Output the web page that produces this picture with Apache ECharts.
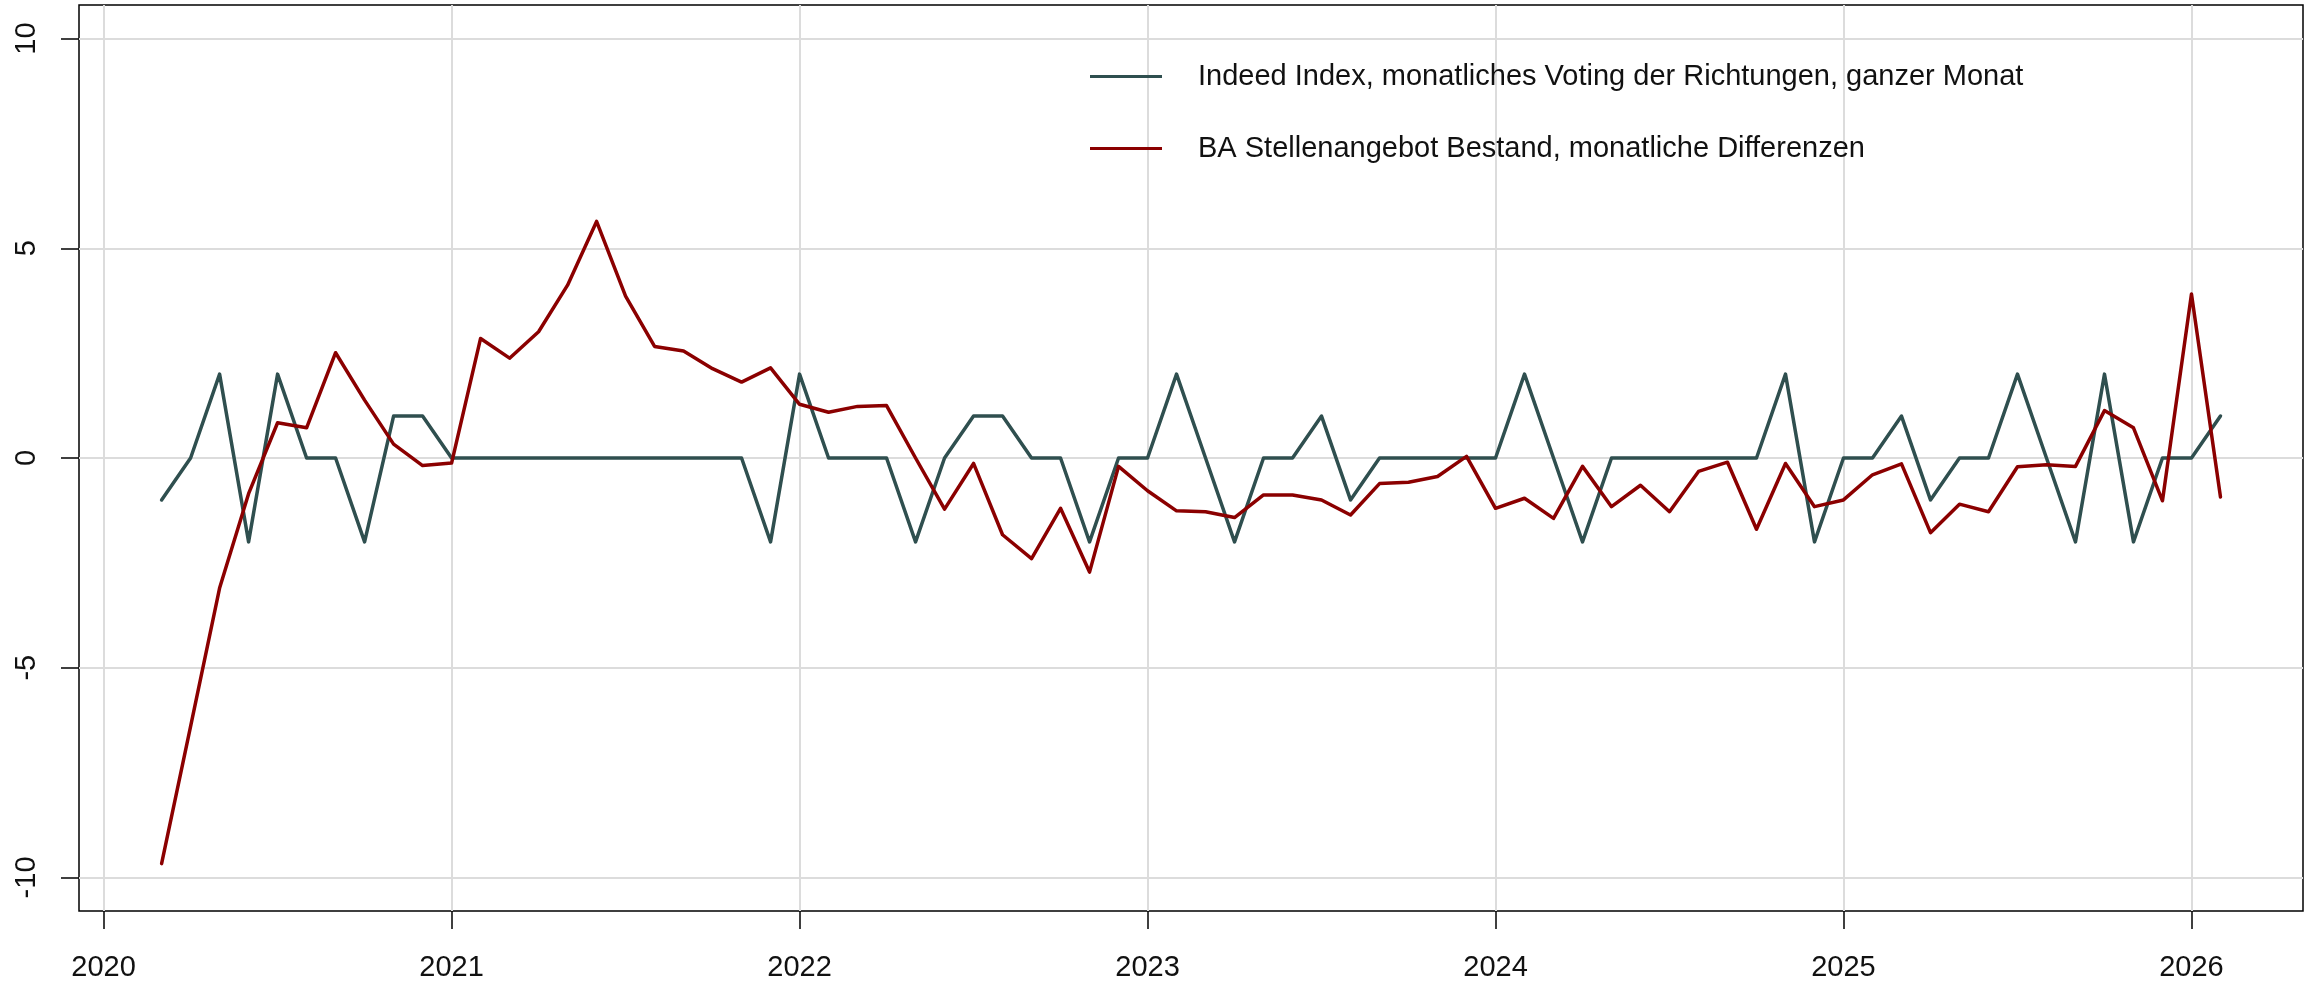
<!DOCTYPE html>
<html>
<head>
<meta charset="utf-8">
<script src="https://cdn.jsdelivr.net/npm/echarts@6/dist/echarts.min.js"></script>
<style>
html,body{margin:0;padding:0;background:#ffffff;}
#chart{width:2316px;height:981px;}
</style>
</head>
<body>
<div id="chart"></div>
<script>
// Monthly observations
const months = [
  '2020-03','2020-04','2020-05','2020-06','2020-07','2020-08','2020-09','2020-10','2020-11','2020-12',
  '2021-01','2021-02','2021-03','2021-04','2021-05','2021-06','2021-07','2021-08','2021-09','2021-10','2021-11','2021-12',
  '2022-01','2022-02','2022-03','2022-04','2022-05','2022-06','2022-07','2022-08','2022-09','2022-10','2022-11','2022-12',
  '2023-01','2023-02','2023-03','2023-04','2023-05','2023-06','2023-07','2023-08','2023-09','2023-10','2023-11','2023-12',
  '2024-01','2024-02','2024-03','2024-04','2024-05','2024-06','2024-07','2024-08','2024-09','2024-10','2024-11','2024-12',
  '2025-01','2025-02','2025-03','2025-04','2025-05','2025-06','2025-07','2025-08','2025-09','2025-10','2025-11','2025-12',
  '2026-01','2026-02'
];

// Indeed Index, monatliches Voting der Richtungen, ganzer Monat
const indeedVoting = [
  -1, 0, 2, -2, 2, 0, 0, -2, 1, 1,
  0, 0, 0, 0, 0, 0, 0, 0, 0, 0, 0, -2,
  2, 0, 0, 0, -2, 0, 1, 1, 0, 0, -2, 0,
  0, 2, 0, -2, 0, 0, 1, -1, 0, 0, 0, 0,
  0, 2, 0, -2, 0, 0, 0, 0, 0, 0, 2, -2,
  0, 0, 1, -1, 0, 0, 2, 0, -2, 2, -2, 0,
  0, 1
];

// BA Stellenangebot Bestand, monatliche Differenzen
const baDiff = [
  -9.67, -6.4, -3.1, -0.85, 0.84, 0.72, 2.51, 1.38, 0.33, -0.18,
  -0.12, 2.85, 2.38, 3.01, 4.12, 5.64, 3.86, 2.66, 2.55, 2.13, 1.81, 2.15,
  1.28, 1.09, 1.23, 1.25, 0.0, -1.22, -0.13, -1.83, -2.40, -1.20, -2.72, -0.20,
  -0.78, -1.26, -1.28, -1.42, -0.88, -0.88, -1.00, -1.36, -0.61, -0.58, -0.44, 0.04,
  -1.20, -0.96, -1.44, -0.20, -1.16, -0.65, -1.28, -0.32, -0.10, -1.70, -0.13, -1.16,
  -1.00, -0.40, -0.14, -1.78, -1.10, -1.28, -0.21, -0.16, -0.20, 1.13, 0.72, -1.02,
  3.91, -0.93
];

const seriesNames = [
  'Indeed Index, monatliches Voting der Richtungen, ganzer Monat',
  'BA Stellenangebot Bestand, monatliche Differenzen'
];
const xTickLabels = [2020, 2021, 2022, 2023, 2024, 2025, 2026];
const yTickLabels = [-10, -5, 0, 5, 10];

function toYear(s) {
  const p = s.split('-');
  return Number(p[0]) + (Number(p[1]) - 1) / 12;
}

const FONT = 'Liberation Sans';
const chart = echarts.init(document.getElementById('chart'), null, {renderer: 'canvas'});

chart.setOption({
  animation: false,
  backgroundColor: '#ffffff',
  grid: {
    left: 79, right: 13, top: 5, bottom: 70,
    show: true, borderColor: '#000000', borderWidth: 1.5,
    backgroundColor: 'transparent',
    containLabel: false, outerBoundsMode: 'none'
  },
  legend: {
    left: 1090, top: 62, orient: 'vertical', padding: 0,
    itemWidth: 72, itemHeight: 3, itemGap: 43, icon: 'rect',
    textStyle: {fontSize: 29, lineHeight: 29, fontFamily: FONT, color: '#111111', padding: [0, 0, 0, 31]},
    data: seriesNames
  },
  xAxis: {
    type: 'value',
    min: 2019.9293, max: 2026.3205,
    axisLine: {show: false, onZero: false},
    axisTick: {show: true, inside: false, length: 18, customValues: xTickLabels, lineStyle: {color: '#000000', width: 1.5}},
    axisLabel: {customValues: xTickLabels, margin: 42, fontSize: 29, fontFamily: FONT, color: '#111111', formatter: function (v) { return String(v); }},
    splitLine: {show: true, lineStyle: {color: '#dcdcdc', width: 2}}
  },
  yAxis: {
    type: 'value',
    min: -10.8, max: 10.8,
    axisLine: {show: false, onZero: false},
    axisTick: {show: true, inside: false, length: 18, customValues: yTickLabels, lineStyle: {color: '#000000', width: 1.5}},
    axisLabel: {customValues: yTickLabels, rotate: 90, margin: 38, fontSize: 29, fontFamily: FONT, color: '#111111', formatter: function (v) { return String(v); }},
    splitLine: {show: true, lineStyle: {color: '#dcdcdc', width: 2}}
  },
  series: [
    {
      name: seriesNames[0], type: 'line', symbol: 'none', showSymbol: false,
      color: '#2F4F4F',
      itemStyle: {color: '#2F4F4F'},
      lineStyle: {color: '#2F4F4F', width: 3.5, join: 'round', cap: 'round'},
      data: months.map(function (m, i) { return [toYear(m), indeedVoting[i]]; })
    },
    {
      name: seriesNames[1], type: 'line', symbol: 'none', showSymbol: false,
      color: '#8B0000',
      itemStyle: {color: '#8B0000'},
      lineStyle: {color: '#8B0000', width: 3.5, join: 'round', cap: 'round'},
      data: months.map(function (m, i) { return [toYear(m), baDiff[i]]; })
    }
  ]
});
</script>
</body>
</html>
